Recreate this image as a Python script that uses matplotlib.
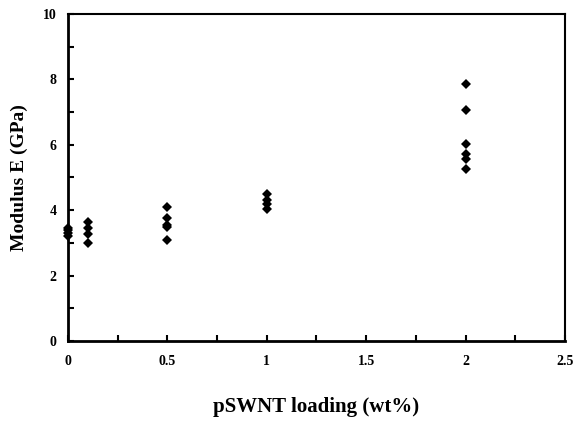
import numpy as np
import matplotlib
matplotlib.use("Agg")
import matplotlib.pyplot as plt
from matplotlib.ticker import MultipleLocator

plt.rcParams['font.family'] = ['Liberation Serif', 'DejaVu Serif']
plt.rcParams['font.weight'] = 'bold'

# modulus readings at each loading (wt%)
loading = [0, 0.1, 0.5, 1, 2]
mod_0 = [3.45, 3.38, 3.3, 3.22]
mod_01 = [3.65, 3.47, 3.27, 3.0]
mod_05 = [4.1, 3.75, 3.55, 3.5, 3.08]
mod_1 = [4.5, 4.3, 4.2, 4.05]
mod_2 = [7.87, 7.07, 6.03, 5.72, 5.58, 5.25]
moduli = [mod_0, mod_01, mod_05, mod_1, mod_2]

fig = plt.figure(figsize=(5.79, 4.23), dpi=100)
ax = fig.add_axes([0.1174, 0.1939, 0.8584, 0.7730])

for x, vals in zip(loading, moduli):
    ax.plot([x] * len(vals), vals, 'D', color='black', ms=5.5, mew=0, clip_on=False)

ax.set_xlim(0, 2.5)
ax.set_ylim(0, 10)
ax.xaxis.set_minor_locator(MultipleLocator(0.25))
ax.yaxis.set_major_locator(MultipleLocator(2))
ax.yaxis.set_minor_locator(MultipleLocator(1))
ax.set_xticks([0, 0.5, 1, 1.5, 2, 2.5])
ax.set_xticklabels(['0', '0.5', '1', '1.5', '2', '2.5'])

ax.tick_params(which='both', direction='in', length=4, width=1.5, labelsize=10)
ax.tick_params(axis='x', which='both', pad=10)
ax.tick_params(axis='y', which='both', pad=8)

for side in ['left', 'bottom']:
    ax.spines[side].set_linewidth(2)
for side in ['top', 'right']:
    ax.spines[side].set_linewidth(1.5)

ax.set_xlabel('pSWNT loading (wt%)', fontsize=15, fontweight='bold', labelpad=21)
ax.set_ylabel('Modulus E (GPa)', fontsize=14, fontweight='bold', labelpad=11)

fig.savefig('out.png', dpi=100)
